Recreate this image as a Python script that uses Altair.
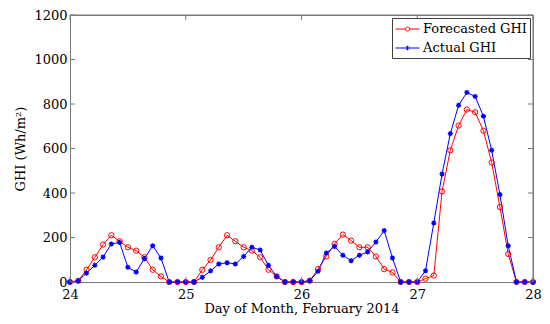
import altair as alt
import numpy as np
import pandas as pd

# ---- data ----
series_names = ["Forecasted GHI", "Actual GHI"]
first_day = 24
samples_per_day = 14
forecast = [
    0, 5, 55, 111, 168, 210, 183, 156, 141, 111, 55, 25, 0, 0,
    0, 0, 55, 99, 156, 210, 183, 156, 141, 111, 55, 25, 0, 0,
    0, 6, 58, 115, 171, 213, 186, 156, 156, 115, 58, 43, 0, 0,
    0, 15, 29, 407, 592, 703, 775, 763, 680, 537, 337, 126, 0, 0,
    0,
]
actual = [
    0, 6, 40, 75, 112, 171, 178, 66, 45, 105, 163, 108, 0, 0,
    0, 0, 21, 50, 81, 87, 81, 115, 156, 144, 75, 25, 0, 0,
    0, 6, 48, 130, 160, 120, 96, 120, 135, 180, 231, 108, 0, 0,
    0, 51, 265, 485, 667, 794, 852, 834, 745, 592, 393, 163, 0, 0,
    0,
]
x_ticks = [24, 25, 26, 27, 28]
y_ticks = [0, 200, 400, 600, 800, 1000, 1200]

days = first_day + np.arange(len(forecast)) / samples_per_day
df = pd.concat([
    pd.DataFrame({"day": days, "ghi": forecast, "series": series_names[0]}),
    pd.DataFrame({"day": days, "ghi": actual, "series": series_names[1]}),
])

FONT = "DejaVu Serif"
GRAY = "#7a7a7a"
RED = "#ff0000"
BLUE = "#0000ff"
W, H = 463, 267

ASTER = "M0,-1L0,1M-1,0L1,0M-0.7,-0.7L0.7,0.7M-0.7,0.7L0.7,-0.7"
# legend symbols: a line segment with the marker at its middle (symbol unit = 7.5 px)
LEG_A = ("M-1,0L0.33,0M0.87,0L2.2,0"
         "M0.87,0L0.834,0.135L0.735,0.234L0.6,0.27L0.465,0.234L0.366,0.135L0.33,0"
         "L0.366,-0.135L0.465,-0.234L0.6,-0.27L0.735,-0.234L0.834,-0.135Z")
LEG_B = ("M-1,0L2.2,0M0.6,-0.3L0.6,0.3M0.39,-0.21L0.81,0.21M0.39,0.21L0.81,-0.21")

xscale = alt.Scale(domain=[24, 28], nice=False, zero=False)
yscale = alt.Scale(domain=[0, 1200], nice=False)
cscale = alt.Scale(domain=series_names, range=[RED, BLUE])

xaxis = alt.Axis(values=x_ticks, format="d", title="Day of Month, February 2014",
                 labelFlush=False, labelPadding=6.6, titleY=30.5, titleBaseline="alphabetic")
yaxis = alt.Axis(values=y_ticks, format="d", title="GHI (Wh/m²)",
                 labelPadding=3, titlePadding=6)
X = alt.X("day:Q", scale=xscale, axis=xaxis)
Y = alt.Y("ghi:Q", scale=yscale, axis=yaxis)

base = alt.Chart(df)
fc = base.transform_filter(alt.datum.series == series_names[0])
ac = base.transform_filter(alt.datum.series == series_names[1])

red_line = fc.mark_line(strokeWidth=1, color=RED).encode(x=X, y=Y)
blue_line = ac.mark_line(strokeWidth=1, color=BLUE).encode(x=X, y=Y)
red_pts = fc.mark_point(shape="circle", filled=False, size=28, strokeWidth=1,
                        color=RED, opacity=1).encode(x=X, y=Y)
blue_pts = ac.mark_point(shape=ASTER, filled=False, size=26, strokeWidth=1.3,
                         color=BLUE, opacity=1).encode(x=X, y=Y)

leg = alt.Legend(orient="top-right", offset=3, fillColor="white",
                 strokeColor="#404040", padding=3, rowPadding=4, labelOffset=12,
                 symbolSize=225, symbolStrokeWidth=1, labelFont=FONT, labelFontSize=13,
                 labelColor="black")

legend_layer = base.transform_filter("false").mark_point(
    filled=False, size=225, strokeWidth=1, opacity=1
).encode(
    x=X, y=Y,
    color=alt.Color("series:N", scale=cscale, legend=leg, title=None),
    shape=alt.Shape("series:N", scale=alt.Scale(domain=series_names, range=[LEG_A, LEG_B]),
                    legend=leg, title=None),
)

# inward tick marks and box (MATLAB-style)
yt = alt.Chart(pd.DataFrame({"ghi": y_ticks}))
xt = alt.Chart(pd.DataFrame({"day": x_ticks}))
left_ticks = yt.mark_rule(color=GRAY, strokeWidth=1).encode(
    y=Y, x=alt.value(0), x2=alt.value(5))
right_ticks = yt.mark_rule(color=GRAY, strokeWidth=1).encode(
    y=Y, x=alt.value(W - 5), x2=alt.value(W))
bottom_ticks = xt.mark_rule(color=GRAY, strokeWidth=1).encode(
    x=X, y=alt.value(H - 5), y2=alt.value(H))
top_ticks = xt.mark_rule(color=GRAY, strokeWidth=1).encode(
    x=X, y=alt.value(0), y2=alt.value(5))
one = alt.Chart(pd.DataFrame({"k": [0]}))
top_edge = one.mark_rule(color=GRAY, strokeWidth=1).encode(
    x=alt.value(0), x2=alt.value(W), y=alt.value(0))
right_edge = one.mark_rule(color=GRAY, strokeWidth=1).encode(
    x=alt.value(W), y=alt.value(0), y2=alt.value(H))

chart = alt.layer(
    red_line, blue_line, red_pts, blue_pts, legend_layer,
    left_ticks, right_ticks, bottom_ticks, top_ticks, top_edge, right_edge,
).properties(
    width=W, height=H,
    autosize=alt.AutoSizeParams(type="none"),
    padding={"left": 62, "top": 7, "right": 9, "bottom": 34},
    background="white",
).configure_view(
    stroke=GRAY, strokeWidth=1
).configure_axis(
    domainColor=GRAY, ticks=False, grid=False,
    labelFont=FONT, labelFontSize=13, labelColor="black",
    titleFont=FONT, titleFontSize=13, titleFontWeight="normal", titleColor="black",
).configure_legend(
    labelFont=FONT, labelFontSize=13, labelColor="black",
)

chart.save("out.html", embed_options={"renderer": "svg", "actions": False})
